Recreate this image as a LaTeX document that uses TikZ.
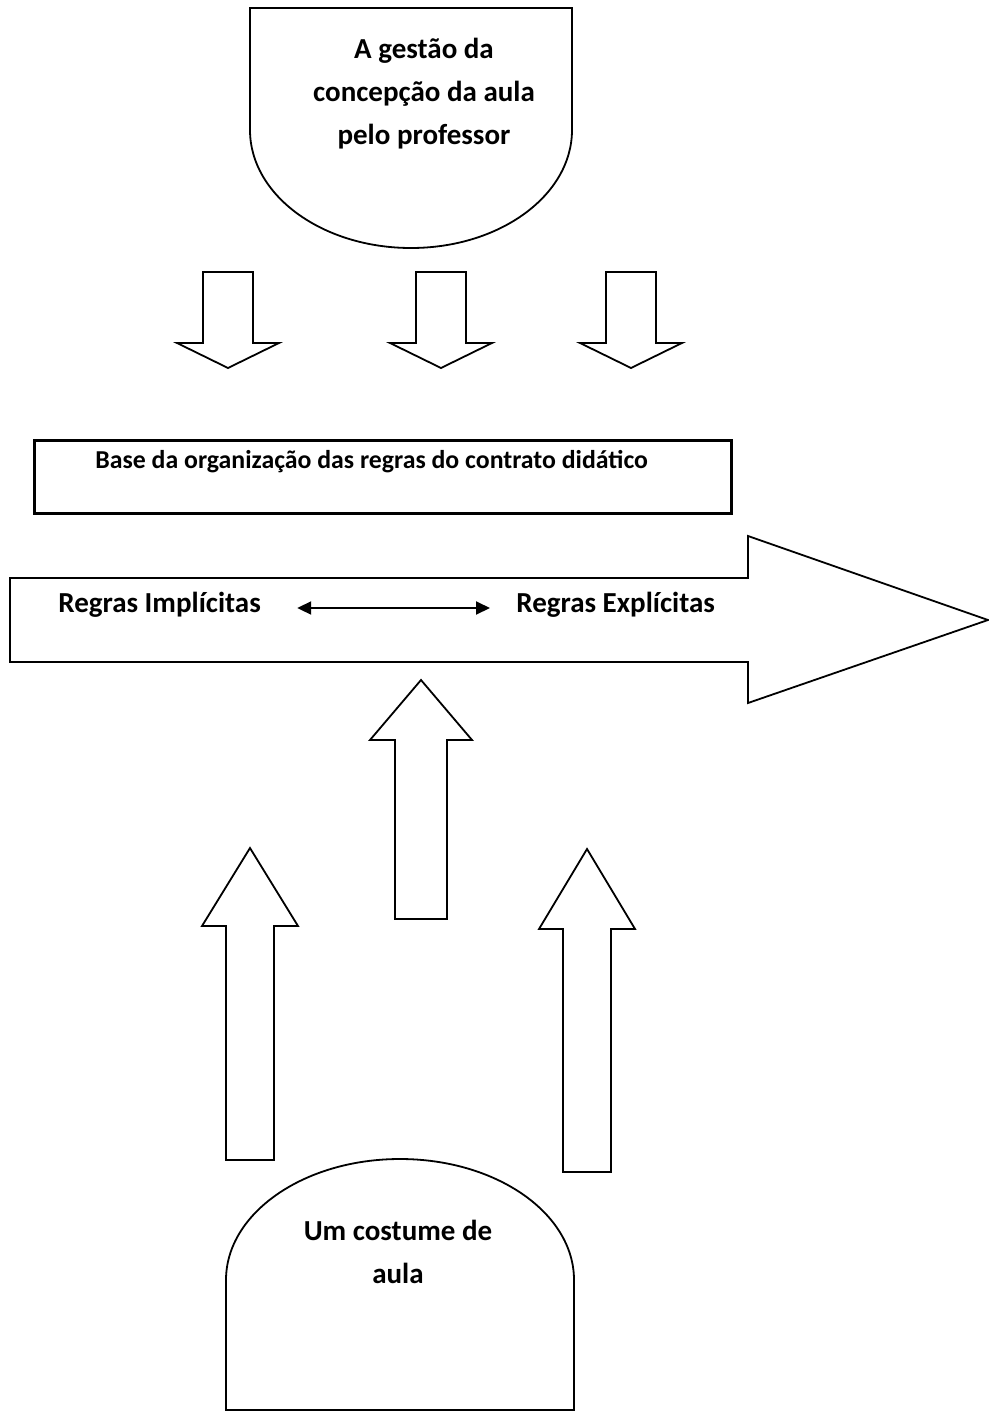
\documentclass[tikz,border=0pt]{standalone}
\usepackage{fontspec}
\setmainfont{Carlito}
\usetikzlibrary{arrows.meta, positioning}

\begin{document}
\begin{tikzpicture}[
    x=0.5pt, y=-0.5pt,
    outline/.style={draw, line width=0.9pt, line join=miter},
    bigtext/.style={font=\bfseries\fontsize{14.5}{21.5}\selectfont, align=center, inner sep=0pt},
    smalltext/.style={font=\bfseries\fontsize{12.9}{15}\selectfont, inner sep=0pt}
]
    \useasboundingbox (0,0) rectangle (989,1412);

    % top shape
    \draw[outline] (250,8) -- (572,8) -- (572,130)
        arc[start angle=0, end angle=180, x radius=161, y radius=118] -- cycle;
    \node[bigtext] (gestao) at (424,94) {A gestão da\\concepção da aula\\pelo professor};

    % down arrows
    \foreach \cx in {228,441,631}
        \draw[outline] (\cx-25,272) -- (\cx+25,272) -- (\cx+25,343) -- (\cx+51,343)
            -- (\cx,368) -- (\cx-51,343) -- (\cx-25,343) -- cycle;

    % base box
    \node[outline, line width=1.3pt, minimum width=348.5pt, minimum height=36.5pt,
          inner sep=0pt, anchor=north west] (basebox) at (33,439) {};
    \node[smalltext, anchor=base west] (basetitle) at (95,468)
        {Base da organização das regras do contrato didático};

    % big horizontal arrow
    \draw[outline] (10,578) -- (748,578) -- (748,536) -- (988,620) -- (748,703)
        -- (748,662) -- (10,662) -- cycle;
    \node[bigtext, anchor=base west] (implicit) at (58,612) {Regras Implícitas};
    \node[bigtext, anchor=base west] (explicit) at (516,612) {Regras Explícitas};
    \draw[{Triangle[length=7pt,width=6.5pt]}-{Triangle[length=7pt,width=6.5pt]},
          line width=1pt, shorten <=18pt, shorten >=13pt]
        ([yshift=2pt]implicit.base east) -- ([yshift=2pt]explicit.base west);

    % up arrows
    \foreach \cx/\tip/\neck/\foot/\shaft/\head in
        {421/680/740/919/26/51, 250/848/926/1160/24/48, 587/849/929/1172/24/48}
        \draw[outline] (\cx-\shaft,\foot) -- (\cx-\shaft,\neck) -- (\cx-\head,\neck)
            -- (\cx,\tip) -- (\cx+\head,\neck) -- (\cx+\shaft,\neck)
            -- (\cx+\shaft,\foot) -- cycle;

    % bottom shape
    \draw[outline] (226,1410) -- (226,1280)
        arc[start angle=180, end angle=360, x radius=174, y radius=121]
        -- (574,1410) -- cycle;
    \node[bigtext] (costume) at (398,1252) {Um costume de\\aula};
\end{tikzpicture}
\end{document}
